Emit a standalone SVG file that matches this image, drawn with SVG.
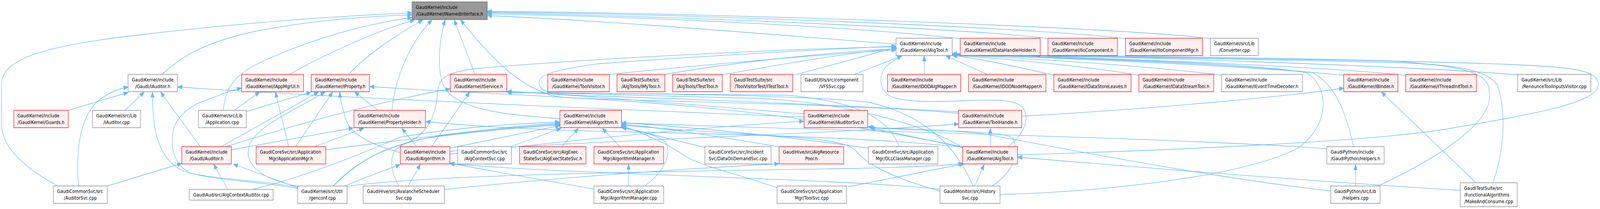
<svg xmlns="http://www.w3.org/2000/svg" width="4882" height="536" viewBox="0 0 4882 536" preserveAspectRatio="none">
<style>
svg:root{width:100vw;height:100vh}
rect{stroke-width:1.3}
.r rect{fill:#FFF0F0;stroke:#FF0000}
.g rect{fill:#FFFFFF;stroke:#7F7F7F}
.root rect{fill:#999999;stroke:#666666}
text{font-family:"DejaVu Sans","Liberation Sans",sans-serif;font-size:12.7px;fill:#000000}
text.c{text-anchor:middle}
#edges path{fill:none;stroke:#63B8FF;stroke-width:1.3;marker-end:url(#arr)}
</style>
<defs>
<marker id="arr" viewBox="0 0 14 11" refX="14" refY="5.5" markerWidth="14" markerHeight="11" markerUnits="userSpaceOnUse" orient="auto">
<path d="M0,0 L14,5.5 L0,11 Z" fill="#63B8FF" stroke="#63B8FF" stroke-width="1"/>
</marker>
</defs>
<rect x="0" y="0" width="4882" height="536" fill="#FFFFFF" stroke="none"/>
<g id="edges">
<path d="M176,477 C95,440 5,385 5,320 L5,215 C5,150 140,118 400,92 C700,62 1000,42 1257,33"/>
<path d="M494,191 C560,140 630,108 780,80 C950,52 1120,42 1257,38"/>
<path d="M681,283 C688,225 715,190 800,158 C950,100 1110,62 1257,45"/>
<path d="M883,191 C990,140 1140,82 1265,51"/>
<path d="M1063,191 C1120,140 1200,95 1290,51"/>
<path d="M1196,283 C1205,200 1250,110 1318,51"/>
<path d="M1708,304 C1550,296 1410,282 1362,232 C1330,195 1338,110 1358,51"/>
<path d="M1449,191 L1386,51"/>
<path d="M2925,291 C2600,265 2000,262 1720,250 C1600,240 1500,150 1405,51"/>
<path d="M2734,113 C2400,92 1900,55 1487,40"/>
<path d="M2930,99 C2600,68 1950,42 1487,36"/>
<path d="M3198,99 C3000,76 2100,42 1487,33"/>
<path d="M3434,99 C3150,70 2100,36 1487,31"/>
<path d="M3694,99 C3400,68 2100,32 1487,29"/>
<path d="M208,283 L391,237"/>
<path d="M382,283 L440,236"/>
<path d="M240,477 C232,400 238,310 295,262 C325,240 360,228 391,223"/>
<path d="M611,376 L490,236"/>
<path d="M908,480 C800,462 610,458 555,437 C480,405 465,330 465,236"/>
<path d="M2453,300 C2000,285 1000,250 542,223"/>
<path d="M908,483 C800,467 640,461 580,443 C528,423 518,370 530,330 C545,290 590,268 625,258 C665,246 700,232 737,226"/>
<path d="M715,283 L792,236"/>
<path d="M881,376 L840,236"/>
<path d="M752,286 L949,236"/>
<path d="M675,376 L972,236"/>
<path d="M910,478 C770,455 745,410 762,370 C790,320 900,282 992,236"/>
<path d="M902,376 L1015,236"/>
<path d="M1221,391 C1150,375 1070,350 1055,305 C1045,275 1038,258 1037,236"/>
<path d="M1154,283 L1082,236"/>
<path d="M2940,377 C2750,345 2450,295 2000,265 C1700,245 1450,240 1128,222"/>
<path d="M706,384 L1078,328"/>
<path d="M960,376 L1110,329"/>
<path d="M1271,376 L1226,329"/>
<path d="M2940,378 C2700,355 2300,345 1900,338 C1600,333 1400,320 1299,312"/>
<path d="M690,376 C900,320 1150,262 1374,228"/>
<path d="M1317,376 L1433,236"/>
<path d="M2453,292 C2100,268 1800,246 1547,234"/>
<path d="M2744,376 C2720,320 2650,262 2400,244 C2100,240 1800,240 1547,237"/>
<path d="M2940,380 C2850,330 2600,262 2300,252 C2000,246 1700,241 1547,236"/>
<path d="M994,384 C1300,352 1550,322 1708,316"/>
<path d="M1373,380 L1708,322"/>
<path d="M1017,477 C1100,410 1180,362 1400,342 C1550,328 1650,321 1708,319"/>
<path d="M770,486 C920,455 1060,410 1220,352 C1400,325 1600,316 1708,313"/>
<path d="M1558,376 L1712,329"/>
<path d="M1714,376 L1765,329"/>
<path d="M1217,477 C1200,452 1190,422 1198,400 C1205,375 1240,362 1320,352 C1500,332 1650,324 1708,320"/>
<path d="M1891,376 L1838,329"/>
<path d="M1967,477 C2020,445 2052,400 2032,366 C2005,345 1950,335 1897,328"/>
<path d="M2151,378 L1897,326"/>
<path d="M2380,377 C2200,350 2000,326 1897,318"/>
<path d="M4049,381 C3500,350 2500,335 1897,315"/>
<path d="M2371,482 C2250,445 2150,430 2090,400 C2040,370 1960,340 1897,323"/>
<path d="M2650,380 C2400,350 2100,325 1897,315"/>
<path d="M2868,490 C2720,455 2640,420 2610,385 C2580,360 2450,352 2300,345 C2100,335 1950,325 1897,321"/>
<path d="M327,477 L555,419"/>
<path d="M695,486 L652,421"/>
<path d="M908,481 L712,421"/>
<path d="M1053,477 C1120,452 1180,436 1221,422"/>
<path d="M1246,477 L1283,421"/>
<path d="M1812,485 C1650,460 1500,440 1373,418"/>
<path d="M2868,485 C2500,455 1800,450 1373,420"/>
<path d="M1918,477 L1918,421"/>
<path d="M1356,486 C1700,455 2100,432 2377,420"/>
<path d="M2606,191 L2752,143"/>
<path d="M2820,191 L2820,143"/>
<path d="M3013,191 L2886,143"/>
<path d="M3216,193 C3100,170 2980,150 2906,142"/>
<path d="M3475,193 C3300,168 3050,150 2906,141"/>
<path d="M3728,193 C3500,168 3100,148 2906,140"/>
<path d="M4100,193 C3800,168 3200,148 2906,139"/>
<path d="M4290,193 C4000,168 3300,146 2906,138"/>
<path d="M4631,192 C4300,168 3400,145 2906,137"/>
<path d="M4555,469 C4585,400 4600,300 4570,220 C4540,180 4450,165 4240,160 C3800,150 3200,144 2906,140"/>
<path d="M4204,477 C4350,420 4540,330 4545,250 C4548,195 4520,172 4240,156 C3800,146 3200,142 2906,139"/>
<path d="M3051,499 C3400,490 3800,450 3960,380 C4060,320 4055,225 3990,188 C3850,160 3200,146 2906,141"/>
<path d="M4130,376 C4110,300 4080,220 4005,186 C3700,160 3200,146 2906,141"/>
<path d="M3077,376 C3125,345 3145,300 3120,275 C3095,255 3040,255 2950,258 C2850,262 2760,262 2720,248 C2680,232 2680,190 2705,170 C2720,158 2735,150 2752,144"/>
<path d="M1859,191 C2100,170 2500,140 2734,128"/>
<path d="M2028,191 C2200,165 2500,135 2734,125"/>
<path d="M2204,192 C2350,170 2550,140 2734,124"/>
<path d="M2419,193 C2550,165 2650,140 2734,122"/>
<path d="M1017,477 C1080,420 1150,390 1230,370 C1300,350 1330,300 1335,240 C1337,200 1360,186 1450,176 C1800,150 2400,125 2734,120"/>
<path d="M2925,287 C2400,262 2000,252 1820,246 C1700,244 1650,240 1645,215 C1641,195 1670,182 1820,164 C2200,140 2500,128 2734,118"/>
<path d="M3022,376 L3022,329"/>
<path d="M1373,388 C1800,360 2500,345 2925,318"/>
<path d="M4060,490 C3700,455 3300,390 3000,343 C2850,330 2720,330 2652,327"/>
<path d="M2950,380 L2655,328"/>
<path d="M3028,477 C3090,440 3115,395 3090,355 C3060,330 2800,340 2648,325"/>
<path d="M1373,395 C1800,355 2200,322 2453,311"/>
<path d="M1059,478 C1300,448 2000,440 2600,432 C2800,428 2900,424 2938,419"/>
<path d="M2588,479 L2942,420"/>
<path d="M2974,477 L3003,422"/>
<path d="M4456,488 C4100,470 3700,445 3105,403"/>
<path d="M3105,397 C3600,385 4200,362 4420,330 C4700,290 4880,262 4877,215 C4875,180 4800,172 4600,165 C4200,152 3500,148 3160,143"/>
<path d="M3117,298 C3500,280 3900,250 4100,226"/>
<path d="M4504,469 L4215,236"/>
<path d="M4136,477 L4136,422"/>
<path d="M2969,477 C2930,400 2850,300 2650,262 C2400,240 1800,240 1547,237"/>
</g>
<g id="node_INamedInterface" class="root"><rect x="1257.3" y="4.8" width="229.4" height="45.5"/><text x="1268.8" y="22.8">GaudiKernel/include</text><text class="c" x="1372" y="40.2">/GaudiKernel/INamedInterface.h</text></g>
<g id="node_IAlgTool" class="g"><rect x="2734.1" y="98.1" width="171.2" height="44.5"/><text x="2745.6" y="116.1">GaudiKernel/include</text><text class="c" x="2819.7" y="133.5">/GaudiKernel/IAlgTool.h</text></g>
<g id="node_IDataHandleHolder" class="r"><rect x="2929.9" y="98.1" width="244.1" height="44.5"/><text x="2941.4" y="116.1">GaudiKernel/include</text><text class="c" x="3051.95" y="133.5">/GaudiKernel/IDataHandleHolder.h</text></g>
<g id="node_IIoComponent" class="r"><rect x="3197.7" y="98.1" width="211.6" height="44.5"/><text x="3209.2" y="116.1">GaudiKernel/include</text><text class="c" x="3303.5" y="133.5">/GaudiKernel/IIoComponent.h</text></g>
<g id="node_IIoComponentMgr" class="r"><rect x="3434.2" y="98.1" width="235.2" height="44.5"/><text x="3445.7" y="116.1">GaudiKernel/include</text><text class="c" x="3551.8" y="133.5">/GaudiKernel/IIoComponentMgr.h</text></g>
<g id="node_Converter_cpp" class="g"><rect x="3693.5" y="98.1" width="146.1" height="44.5"/><text x="3705" y="116.1">GaudiKernel/src/Lib</text><text class="c" x="3766.55" y="133.5">/Converter.cpp</text></g>
<g id="node_IAuditor_h" class="g"><rect x="390.7" y="190.8" width="151" height="44.5"/><text x="402.2" y="208.8">GaudiKernel/include</text><text class="c" x="466.2" y="226.2">/Gaudi/IAuditor.h</text></g>
<g id="node_IAppMgrUI" class="r"><rect x="737.2" y="190.8" width="189" height="44.5"/><text x="748.7" y="208.8">GaudiKernel/include</text><text class="c" x="831.7" y="226.2">/GaudiKernel/IAppMgrUI.h</text></g>
<g id="node_IProperty" class="r"><rect x="949.5" y="190.8" width="177.6" height="44.5"/><text x="961" y="208.8">GaudiKernel/include</text><text class="c" x="1038.3" y="226.2">/GaudiKernel/IProperty.h</text></g>
<g id="node_IService" class="r"><rect x="1374" y="190.8" width="172.4" height="44.5"/><text x="1385.5" y="208.8">GaudiKernel/include</text><text class="c" x="1460.2" y="226.2">/GaudiKernel/IService.h</text></g>
<g id="node_ToolVisitor" class="r"><rect x="1671.3" y="190.8" width="188" height="44.5"/><text x="1682.8" y="208.8">GaudiKernel/include</text><text class="c" x="1765.3" y="226.2">/GaudiKernel/ToolVisitor.h</text></g>
<g id="node_IMyTool" class="r"><rect x="1882.6" y="190.8" width="145.9" height="44.5"/><text x="1894.1" y="208.8">GaudiTestSuite/src</text><text class="c" x="1955.55" y="226.2">/AlgTools/IMyTool.h</text></g>
<g id="node_ITestTool_AlgTools" class="r"><rect x="2052.3" y="190.8" width="151.4" height="44.5"/><text x="2063.8" y="208.8">GaudiTestSuite/src</text><text class="c" x="2128" y="226.2">/AlgTools/ITestTool.h</text></g>
<g id="node_ITestTool_ToolVisitorTest" class="r"><rect x="2228.2" y="190.8" width="190.6" height="44.5"/><text x="2239.7" y="208.8">GaudiTestSuite/src</text><text class="c" x="2323.5" y="226.2">/ToolVisitorTest/ITestTool.h</text></g>
<g id="node_VFSSvc" class="g"><rect x="2443.9" y="190.8" width="189.4" height="44.5"/><text x="2455.4" y="208.8">GaudiUtils/src/component</text><text class="c" x="2538.6" y="226.2">/VFSSvc.cpp</text></g>
<g id="node_IDODAlgMapper" class="r"><rect x="2708" y="190.8" width="223.4" height="44.5"/><text x="2719.5" y="208.8">GaudiKernel/include</text><text class="c" x="2819.7" y="226.2">/GaudiKernel/IDODAlgMapper.h</text></g>
<g id="node_IDODNodeMapper" class="r"><rect x="2955" y="190.8" width="236.4" height="44.5"/><text x="2966.5" y="208.8">GaudiKernel/include</text><text class="c" x="3073.2" y="226.2">/GaudiKernel/IDODNodeMapper.h</text></g>
<g id="node_IDataStoreLeaves" class="r"><rect x="3215.5" y="190.8" width="235.7" height="44.5"/><text x="3227" y="208.8">GaudiKernel/include</text><text class="c" x="3333.35" y="226.2">/GaudiKernel/IDataStoreLeaves.h</text></g>
<g id="node_IDataStreamTool" class="r"><rect x="3474.9" y="190.8" width="228.4" height="44.5"/><text x="3486.4" y="208.8">GaudiKernel/include</text><text class="c" x="3589.1" y="226.2">/GaudiKernel/IDataStreamTool.h</text></g>
<g id="node_IEventTimeDecoder" class="g"><rect x="3727.3" y="190.8" width="246.6" height="44.5"/><text x="3738.8" y="208.8">GaudiKernel/include</text><text class="c" x="3850.6" y="226.2">/GaudiKernel/IEventTimeDecoder.h</text></g>
<g id="node_IBinder" class="r"><rect x="4100" y="190.8" width="165.4" height="44.5"/><text x="4111.5" y="208.8">GaudiKernel/include</text><text class="c" x="4182.7" y="226.2">/GaudiKernel/IBinder.h</text></g>
<g id="node_IThreadInitTool" class="r"><rect x="4289.1" y="190.8" width="216.3" height="44.5"/><text x="4300.6" y="208.8">GaudiKernel/include</text><text class="c" x="4397.25" y="226.2">/GaudiKernel/IThreadInitTool.h</text></g>
<g id="node_RenounceToolInputsVisitor" class="g"><rect x="4631" y="190.8" width="223.3" height="44.5"/><text x="4642.5" y="208.8">GaudiKernel/src/Lib</text><text class="c" x="4742.65" y="226.2">/RenounceToolInputsVisitor.cpp</text></g>
<g id="node_Guards" class="r"><rect x="41.9" y="283" width="166.5" height="44.5"/><text x="53.4" y="301">GaudiKernel/include</text><text class="c" x="125.15" y="318.4">/GaudiKernel/Guards.h</text></g>
<g id="node_IAuditor_cpp" class="g"><rect x="282.3" y="283" width="146.7" height="44.5"/><text x="293.8" y="301">GaudiKernel/src/Lib</text><text class="c" x="355.65" y="318.4">/IAuditor.cpp</text></g>
<g id="node_Application_cpp" class="g"><rect x="605.5" y="283" width="145.9" height="44.5"/><text x="617" y="301">GaudiKernel/src/Lib</text><text class="c" x="678.45" y="318.4">/Application.cpp</text></g>
<g id="node_PropertyHolder" class="r"><rect x="1080" y="283" width="218" height="44.5"/><text x="1091.5" y="301">GaudiKernel/include</text><text class="c" x="1189" y="318.4">/GaudiKernel/PropertyHolder.h</text></g>
<g id="node_IAlgorithm" class="r"><rect x="1708.5" y="283" width="188" height="44.5"/><text x="1720" y="301">GaudiKernel/include</text><text class="c" x="1802.5" y="318.4">/GaudiKernel/IAlgorithm.h</text></g>
<g id="node_IAuditorSvc" class="r"><rect x="2453.4" y="283" width="194.1" height="44.5"/><text x="2464.9" y="301">GaudiKernel/include</text><text class="c" x="2550.45" y="318.4">/GaudiKernel/IAuditorSvc.h</text></g>
<g id="node_ToolHandle" class="r"><rect x="2924.7" y="283" width="192.7" height="44.5"/><text x="2936.2" y="301">GaudiKernel/include</text><text class="c" x="3021.05" y="318.4">/GaudiKernel/ToolHandle.h</text></g>
<g id="node_Auditor_h" class="r"><rect x="554.8" y="376" width="151.2" height="44.5"/><text x="566.3" y="394">GaudiKernel/include</text><text class="c" x="630.4" y="411.4">/Gaudi/Auditor.h</text></g>
<g id="node_ApplicationMgr_h" class="r"><rect x="781.5" y="376" width="212.7" height="44.5"/><text x="793" y="394">GaudiCoreSvc/src/Application</text><text class="c" x="887.85" y="411.4">Mgr/ApplicationMgr.h</text></g>
<g id="node_Algorithm_h" class="r"><rect x="1221.4" y="376" width="151.4" height="44.5"/><text x="1232.9" y="394">GaudiKernel/include</text><text class="c" x="1297.1" y="411.4">/Gaudi/Algorithm.h</text></g>
<g id="node_AlgContextSvc" class="g"><rect x="1396.5" y="376" width="164.1" height="44.5"/><text x="1408" y="394">GaudiCommonSvc/src</text><text class="c" x="1478.55" y="411.4">/AlgContextSvc.cpp</text></g>
<g id="node_AlgExecStateSvc" class="r"><rect x="1585.5" y="376" width="202.5" height="44.5"/><text x="1597" y="394">GaudiCoreSvc/src/AlgExec</text><text class="c" x="1686.75" y="411.4">StateSvc/AlgExecStateSvc.h</text></g>
<g id="node_AlgorithmManager_h" class="r"><rect x="1812.3" y="376" width="212.7" height="44.5"/><text x="1823.8" y="394">GaudiCoreSvc/src/Application</text><text class="c" x="1918.65" y="411.4">Mgr/AlgorithmManager.h</text></g>
<g id="node_DataOnDemandSvc" class="g"><rect x="2150.7" y="376" width="202.1" height="44.5"/><text x="2162.2" y="394">GaudiCoreSvc/src/Incident</text><text class="c" x="2251.75" y="411.4">Svc/DataOnDemandSvc.cpp</text></g>
<g id="node_AlgResourcePool" class="r"><rect x="2377.3" y="376" width="197.1" height="44.5"/><text x="2388.8" y="394">GaudiHive/src/AlgResource</text><text class="c" x="2475.85" y="411.4">Pool.h</text></g>
<g id="node_DLLClassManager" class="g"><rect x="2649.9" y="376" width="211.9" height="44.5"/><text x="2661.4" y="394">GaudiCoreSvc/src/Application</text><text class="c" x="2755.85" y="411.4">Mgr/DLLClassManager.cpp</text></g>
<g id="node_AlgTool_h" class="r"><rect x="2937.4" y="376" width="167.4" height="44.5"/><text x="2948.9" y="394">GaudiKernel/include</text><text class="c" x="3021.1" y="411.4">/GaudiKernel/AlgTool.h</text></g>
<g id="node_GaudiPython_Helpers_h" class="g"><rect x="4048.6" y="376" width="174.7" height="44.5"/><text x="4060.1" y="394">GaudiPython/include</text><text class="c" x="4135.95" y="411.4">/GaudiPython/Helpers.h</text></g>
<g id="node_AuditorSvc_cpp" class="g"><rect x="162.9" y="477" width="164.5" height="44.5"/><text x="174.4" y="495">GaudiCommonSvc/src</text><text class="c" x="245.15" y="512.4">/AuditorSvc.cpp</text></g>
<g id="node_AlgContextAuditor" class="g"><rect x="577.3" y="485.8" width="256" height="27.4"/><text class="c" x="705.3" y="504.1">GaudiAud/src/AlgContextAuditor.cpp</text></g>
<g id="node_genconf" class="g"><rect x="908.4" y="477" width="150.6" height="44.5"/><text x="919.9" y="495">GaudiKernel/src/Util</text><text class="c" x="983.7" y="512.4">/genconf.cpp</text></g>
<g id="node_AvalancheSchedulerSvc" class="g"><rect x="1108" y="477" width="247.8" height="44.5"/><text x="1119.5" y="495">GaudiHive/src/AvalancheScheduler</text><text class="c" x="1231.9" y="512.4">Svc.cpp</text></g>
<g id="node_AlgorithmManager_cpp" class="g"><rect x="1812.3" y="477" width="212.7" height="44.5"/><text x="1823.8" y="495">GaudiCoreSvc/src/Application</text><text class="c" x="1918.65" y="512.4">Mgr/AlgorithmManager.cpp</text></g>
<g id="node_ToolSvc" class="g"><rect x="2371" y="477" width="212" height="44.5"/><text x="2382.5" y="495">GaudiCoreSvc/src/Application</text><text class="c" x="2477" y="512.4">Mgr/ToolSvc.cpp</text></g>
<g id="node_HistorySvc" class="g"><rect x="2868.2" y="477" width="183.2" height="44.5"/><text x="2879.7" y="495">GaudiMonitor/src/History</text><text class="c" x="2959.8" y="512.4">Svc.cpp</text></g>
<g id="node_Helpers_cpp" class="g"><rect x="4060.4" y="477" width="150.6" height="44.5"/><text x="4071.9" y="495">GaudiPython/src/Lib</text><text class="c" x="4135.7" y="512.4">/Helpers.cpp</text></g>
<g id="node_MakeAndConsume" class="g"><rect x="4455.8" y="468.7" width="173.6" height="61.5"/><text x="4467.3" y="486.7">GaudiTestSuite/src</text><text x="4467.3" y="504.1">/FunctionalAlgorithms</text><text class="c" x="4542.6" y="521.5">/MakeAndConsume.cpp</text></g>
</svg>
